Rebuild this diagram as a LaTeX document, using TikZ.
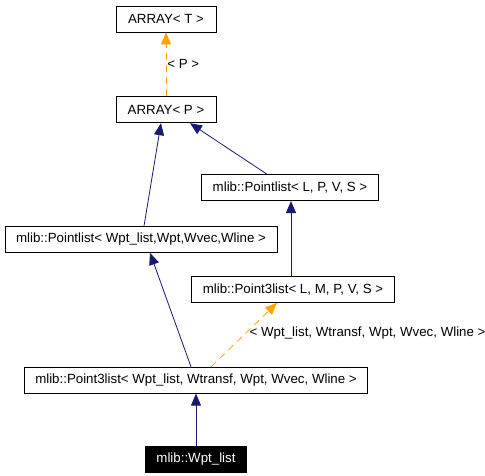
\documentclass[tikz,border=0pt]{standalone}
\usepackage{fontspec}
\setmainfont{Liberation Sans}
\usetikzlibrary{arrows.meta, positioning}
\definecolor{edgeblue}{RGB}{25,25,112}
\definecolor{edgeorange}{RGB}{255,165,0}

\begin{document}
\begin{tikzpicture}[
			x = 1pt, y = 1pt,
			font = \fontsize{13.3}{16}\selectfont,
			classblock/.style = {rectangle, draw, line width=0.8pt, fill=white,
					minimum width=100pt, minimum height=26pt, inner xsep=11pt, inner ysep=0pt},
			activeblock/.style = {classblock, fill=black, text=white},
			line/.style = {draw, edgeblue, line width=0.8pt, -{Triangle[length=12pt, width=10pt]}},
			tline/.style = {draw, edgeorange, line width=0.8pt, dash pattern=on 7pt off 5pt,
					-{Triangle[length=12pt, width=10pt]}},
			edgelabel/.style = {text=black, inner sep=0pt},
		]
		\useasboundingbox (0,0) rectangle (485,-475);

		% Template base classes
		\node [classblock] (arrayT) at (166,-19) {ARRAY< T >};
		\node [classblock, below=64pt of arrayT] (arrayP) {ARRAY< P >};

		% Point lists
		\node [classblock, below=51pt of arrayP, xshift=124pt] (pointlistLPVS) {mlib::Pointlist< L, P, V, S >};
		\node [classblock, below=25pt of pointlistLPVS, xshift=-149pt] (pointlistW) {mlib::Pointlist< Wpt\_list,Wpt,Wvec,Wline >};

		% Point3 lists
		\node [classblock, below=75pt of pointlistLPVS, xshift=3pt] (pointthreeLMPVS) {mlib::Point3list< L, M, P, V, S >};
		\node [classblock, below=64pt of pointthreeLMPVS, xshift=-97pt] (pointthreeW) {mlib::Point3list< Wpt\_list, Wtransf, Wpt, Wvec, Wline >};

		% Documented class
		\node [activeblock, below=52pt of pointthreeW] (wptlist) {mlib::Wpt\_list};

		% Draw arrows
		\path [tline] (arrayP) -- (arrayT)
			node [edgelabel, pos=0.5, right, xshift=1pt] {< P >};
		\path [line] ([xshift=3pt]pointlistW.north) -- ([xshift=-5pt]arrayP.south);
		\path [line] ([xshift=-23pt]pointlistLPVS.north) -- ([xshift=24pt]arrayP.south);
		\path [line] ([xshift=-2pt]pointthreeLMPVS.north) -- ([xshift=1pt]pointlistLPVS.south);
		\path [line] ([xshift=-5pt]pointthreeW.north) -- ([xshift=9pt]pointlistW.south);
		\path [tline] ([xshift=15pt]pointthreeW.north) -- ([xshift=-16pt]pointthreeLMPVS.south)
			node [edgelabel, pos=0.52, right, xshift=4pt] {< Wpt\_list, Wtransf, Wpt, Wvec, Wline >};
		\path [line] (wptlist) -- (pointthreeW);
	\end{tikzpicture}
\end{document}
